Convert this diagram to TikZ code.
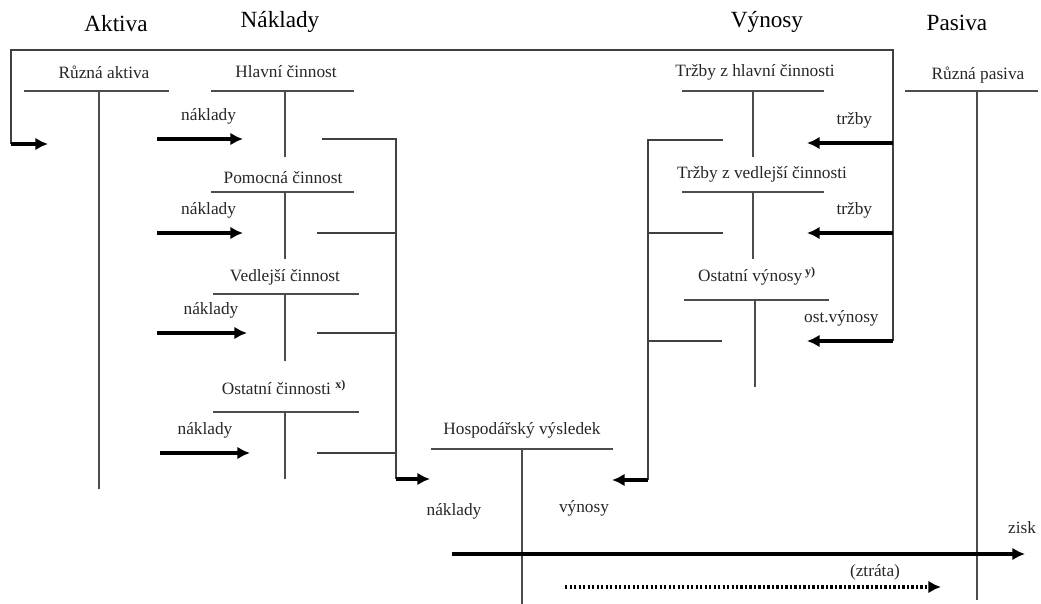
\documentclass[tikz,border=0pt]{standalone}
\usepackage{fontspec}
\setmainfont{Liberation Serif}
\usetikzlibrary{arrows.meta}

\begin{document}
\begin{tikzpicture}[x=0.025cm, y=-0.025cm, >={Latex[length=9pt, width=9pt]},
		acct/.style={draw=black!70, line width=0.8pt},
		link/.style={draw=black!75, line width=0.9pt},
		flow/.style={->, line width=2.2pt},
		head/.style={font=\fontsize{16.5}{19}\selectfont},
		lbl/.style={font=\fontsize{12.3}{14}\selectfont, text=black!85}]
		\useasboundingbox (0,0) rectangle (1041,604);

		\node[head] (aktiva) at (116,24) {Aktiva};
		\node[head] (naklady) at (280,22) {Náklady};
		\node[head] (vynosy) at (767,22) {Výnosy};
		\node[head] (pasiva) at (957,23) {Pasiva};

		% ucty
		\node[lbl] (ra) at (104,72) {Různá aktiva};
		\node[lbl] (hc) at (286,72) {Hlavní činnost};
		\node[lbl] (pc) at (283,178) {Pomocná činnost};
		\node[lbl] (vc) at (285,277) {Vedlejší činnost};
		\node[lbl] (oc) at (284,387) {Ostatní činnosti \textsuperscript{\textbf{x)}}};
		\node[lbl] (th) at (755,72) {Tržby z hlavní činnosti};
		\node[lbl] (tv) at (762,174) {Tržby z vedlejší činnosti};
		\node[lbl] (ov) at (757,276) {Ostatní výnosy\,\textsuperscript{\textbf{y)}}};
		\node[lbl] (rp) at (978,75) {Různá pasiva};
		\node[lbl] (hv) at (522,430) {Hospodářský výsledek};

		\draw[acct] (24,91) -- (169,91) (99,91) -- (99,489);
		\draw[acct] (211,91) -- (354,91) (285,91) -- (285,157);
		\draw[acct] (211,192) -- (354,192) (285,192) -- (285,259);
		\draw[acct] (213,294) -- (359,294) (285,294) -- (285,361);
		\draw[acct] (213,412) -- (359,412) (285,412) -- (285,479);
		\draw[acct] (682,91) -- (824,91) (753,91) -- (753,157);
		\draw[acct] (682,192) -- (824,192) (753,192) -- (753,259);
		\draw[acct] (684,300) -- (829,300) (755,300) -- (755,387);
		\draw[acct] (905,91) -- (1038,91) (977,91) -- (977,600);
		\draw[acct] (431,449) -- (613,449) (522,449) -- (522,604);

		% obeh
		\coordinate (fl) at (11,144);
		\coordinate (fr) at (893,341);
		\draw[link] (fl) -- (11,50) -- (893,50) -- (fr);
		\draw[flow] (fl) -- (48,144);

		\coordinate (n1) at (157,139);
		\coordinate (n2) at (157,233);
		\coordinate (n3) at (157,333);
		\coordinate (n4) at (160,453);
		\draw[flow] (n1) -- ++(86,0) node[lbl, pos=0.6, above=6pt] (nl1) {náklady};
		\draw[flow] (n2) -- ++(86,0) node[lbl, pos=0.6, above=6pt] (nl2) {náklady};
		\draw[flow] (n3) -- ++(90,0) node[lbl, pos=0.6, above=6pt] (nl3) {náklady};
		\draw[flow] (n4) -- ++(90,0) node[lbl, pos=0.5, above=6pt] (nl4) {náklady};

		\coordinate (sn) at (396,479);
		\draw[link] (322,139) -- (396,139) -- (sn);
		\draw[link] (317,233) -- (396,233) (317,333) -- (396,333) (317,453) -- (396,453);
		\draw[flow] (sn) -- (430,479);

		\coordinate (t1) at (893,143);
		\coordinate (t2) at (893,233);
		\draw[flow] (t1) -- (807,143) node[lbl, pos=0.45, above=6pt] (tl1) {tržby};
		\draw[flow] (t2) -- (807,233) node[lbl, pos=0.45, above=6pt] (tl2) {tržby};
		\draw[flow] (fr) -- (807,341) node[lbl, pos=0.6, above=6pt] (tl3) {ost.výnosy};

		\coordinate (sv) at (648,480);
		\draw[link] (723,140) -- (648,140) -- (sv);
		\draw[link] (648,233) -- (723,233) (648,341) -- (722,341);
		\draw[flow] (sv) -- (612,480);

		% vysledek
		\node[lbl] (hn) at (454,511) {náklady};
		\node[lbl] (hy) at (584,508) {výnosy};
		\coordinate (za) at (452,554);
		\coordinate (zb) at (1025,554);
		\draw[flow] (za) -- (zb);
		\node[lbl] (zisk) at (1022,528) {zisk};
		\coordinate (ya) at (565,587);
		\coordinate (yb) at (941,587);
		\draw[flow, dash pattern=on 1.6pt off 1.6pt] (ya) -- (yb);
		\node[lbl] (ztrata) at (875,572) {(ztráta)};
	\end{tikzpicture}
\end{document}
